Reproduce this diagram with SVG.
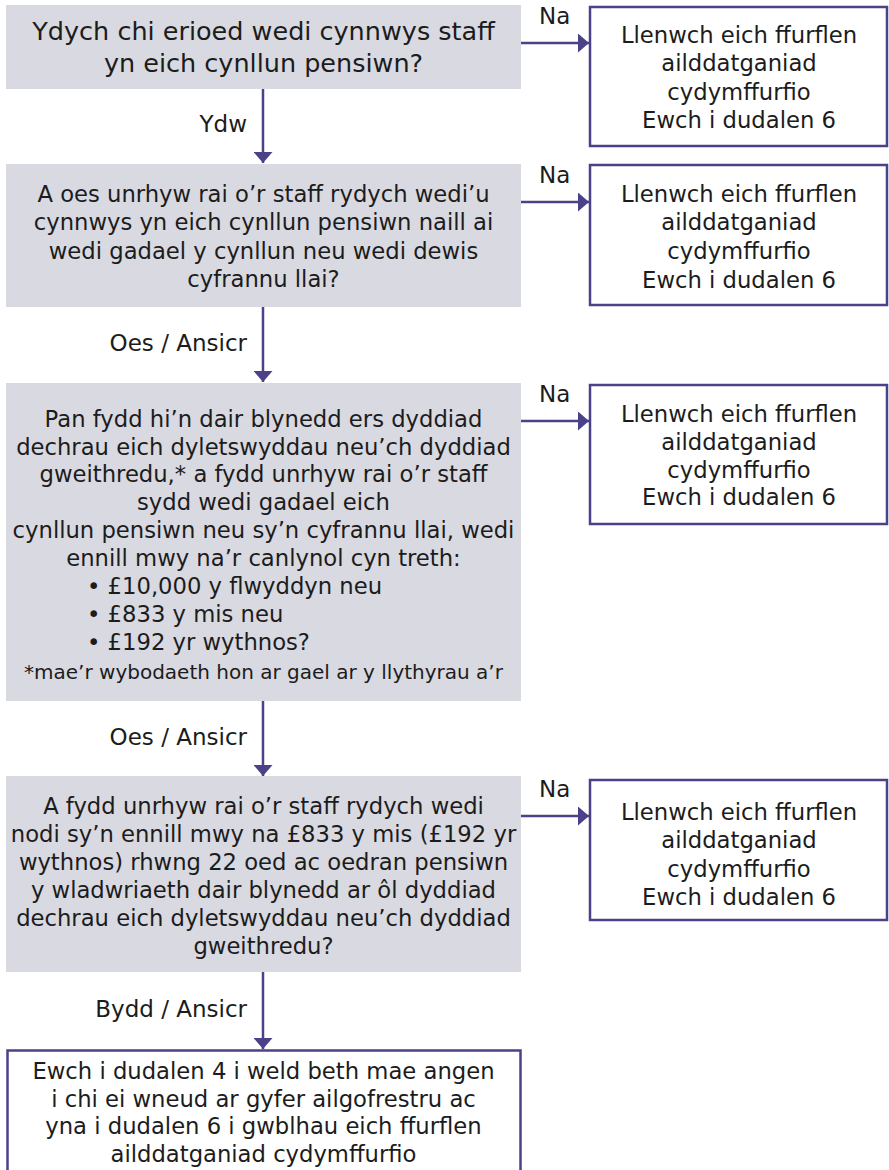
<svg xmlns="http://www.w3.org/2000/svg" width="889" height="1170" viewBox="0 0 889 1170">
<style>
text{font-family:"DejaVu Sans","Liberation Sans",sans-serif;fill:#1c1c1c;}
.q{fill:#d9d9e1;stroke:none;}
.o{fill:#ffffff;stroke:#4b4189;stroke-width:2.5;}
.t{font-size:22.7px;text-anchor:middle;}
.t1{font-size:25.5px;text-anchor:middle;}
.fn{font-size:20px;text-anchor:middle;}
.bl{font-size:22.7px;text-anchor:start;}
.lb{font-size:23px;text-anchor:end;}
.na{font-size:23px;text-anchor:start;}
.c{stroke:#4b4189;stroke-width:2.5;fill:none;marker-end:url(#ah);}
</style>
<defs>
<marker id="ah" markerUnits="userSpaceOnUse" markerWidth="12" markerHeight="19" refX="11" refY="9.5" orient="auto">
<path d="M0,0 L11,9.5 L0,19 z" fill="#4b4189"/>
</marker>
</defs>
<rect x="0" y="0" width="889" height="1170" fill="#ffffff"/>
<g id="connectors">
<path class="c" d="M263,89 V163"/>
<path class="c" d="M263,307 V382"/>
<path class="c" d="M263,701 V776"/>
<path class="c" d="M263,972 V1049"/>
<path class="c" d="M521,43 H589"/>
<path class="c" d="M521,202 H589"/>
<path class="c" d="M521,421 H589"/>
<path class="c" d="M521,816 H589"/>
<text class="lb" x="247" y="132">Ydw</text>
<text class="lb" x="247" y="351">Oes / Ansicr</text>
<text class="lb" x="247" y="745">Oes / Ansicr</text>
<text class="lb" x="247" y="1017">Bydd / Ansicr</text>
<text class="na" x="539" y="24">Na</text>
<text class="na" x="539" y="183">Na</text>
<text class="na" x="539" y="402">Na</text>
<text class="na" x="539" y="797">Na</text>
</g>
<g id="q1">
<rect class="q" x="6" y="5" width="515" height="84"/>
<text class="t1" x="263.5" y="40">Ydych chi erioed wedi cynnwys staff</text>
<text class="t1" x="263.5" y="72">yn eich cynllun pensiwn?</text>
</g>
<g id="q2">
<rect class="q" x="6" y="164" width="515" height="143"/>
<text class="t" x="263.5" y="201.5">A oes unrhyw rai o’r staff rydych wedi’u</text>
<text class="t" x="263.5" y="230">cynnwys yn eich cynllun pensiwn naill ai</text>
<text class="t" x="263.5" y="258.5">wedi gadael y cynllun neu wedi dewis</text>
<text class="t" x="263.5" y="287">cyfrannu llai?</text>
</g>
<g id="q3">
<rect class="q" x="6" y="383" width="515" height="318"/>
<text class="t" x="263.5" y="427">Pan fydd hi’n dair blynedd ers dyddiad</text>
<text class="t" x="263.5" y="454.5">dechrau eich dyletswyddau neu’ch dyddiad</text>
<text class="t" x="263.5" y="482">gweithredu,* a fydd unrhyw rai o’r staff</text>
<text class="t" x="263.5" y="510">sydd wedi gadael eich</text>
<text class="t" x="263.5" y="537.5">cynllun pensiwn neu sy’n cyfrannu llai, wedi</text>
<text class="t" x="263.5" y="565.5">ennill mwy na’r canlynol cyn treth:</text>
<text class="bl" x="87" y="593.5">• £10,000 y flwyddyn neu</text>
<text class="bl" x="87" y="621.5">• £833 y mis neu</text>
<text class="bl" x="87" y="649.5">• £192 yr wythnos?</text>
<text class="fn" x="263.5" y="678.5">*mae’r wybodaeth hon ar gael ar y llythyrau a’r</text>
</g>
<g id="q4">
<rect class="q" x="6" y="776" width="515" height="196"/>
<text class="t" x="263.5" y="813.5">A fydd unrhyw rai o’r staff rydych wedi</text>
<text class="t" x="263.5" y="841.5">nodi sy’n ennill mwy na £833 y mis (£192 yr</text>
<text class="t" x="263.5" y="870">wythnos) rhwng 22 oed ac oedran pensiwn</text>
<text class="t" x="263.5" y="897.5">y wladwriaeth dair blynedd ar ôl dyddiad</text>
<text class="t" x="263.5" y="925.5">dechrau eich dyletswyddau neu’ch dyddiad</text>
<text class="t" x="263.5" y="954">gweithredu?</text>
</g>
<g id="r1">
<rect class="o" x="590" y="7" width="297" height="139"/>
<text class="t" x="739" y="43">Llenwch eich ffurflen</text>
<text class="t" x="739" y="71">ailddatganiad</text>
<text class="t" x="739" y="99.5">cydymffurfio</text>
<text class="t" x="739" y="128">Ewch i dudalen 6</text>
</g>
<g id="r2">
<rect class="o" x="590" y="165" width="297" height="140"/>
<text class="t" x="739" y="201.5">Llenwch eich ffurflen</text>
<text class="t" x="739" y="230">ailddatganiad</text>
<text class="t" x="739" y="258.5">cydymffurfio</text>
<text class="t" x="739" y="287.5">Ewch i dudalen 6</text>
</g>
<g id="r3">
<rect class="o" x="590" y="385" width="297" height="139"/>
<text class="t" x="739" y="421.5">Llenwch eich ffurflen</text>
<text class="t" x="739" y="450">ailddatganiad</text>
<text class="t" x="739" y="477.5">cydymffurfio</text>
<text class="t" x="739" y="505">Ewch i dudalen 6</text>
</g>
<g id="r4">
<rect class="o" x="590" y="780" width="297" height="140"/>
<text class="t" x="739" y="820">Llenwch eich ffurflen</text>
<text class="t" x="739" y="848">ailddatganiad</text>
<text class="t" x="739" y="876.5">cydymffurfio</text>
<text class="t" x="739" y="905">Ewch i dudalen 6</text>
</g>
<g id="end">
<rect class="o" x="7.5" y="1050.5" width="513" height="150"/>
<text class="t" x="263.5" y="1078.5">Ewch i dudalen 4 i weld beth mae angen</text>
<text class="t" x="263.5" y="1106.5">i chi ei wneud ar gyfer ailgofrestru ac</text>
<text class="t" x="263.5" y="1134">yna i dudalen 6 i gwblhau eich ffurflen</text>
<text class="t" x="263.5" y="1161.5">ailddatganiad cydymffurfio</text>
</g>
</svg>
